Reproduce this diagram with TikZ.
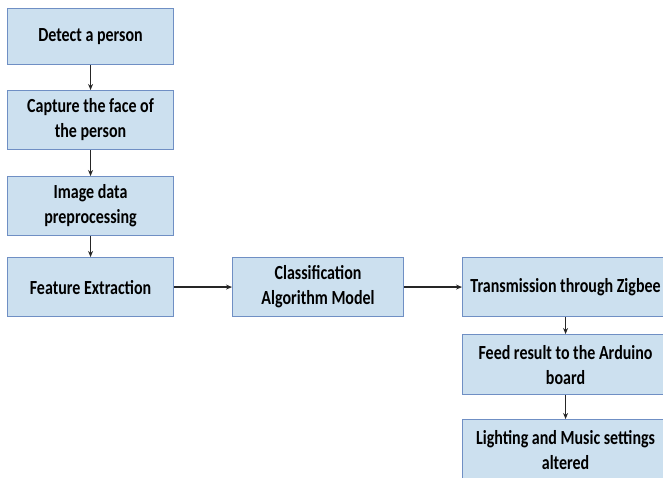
\documentclass[tikz,border=0pt]{standalone}
\usepackage{fontspec}
\setmainfont{Carlito}[FakeStretch=0.8]
\usetikzlibrary{arrows.meta}
\definecolor{boxfill}{HTML}{CCE0EF}
\definecolor{boxline}{HTML}{6F8FC4}
\tikzset{
  stepbox/.style={draw=boxline, line width=1.1pt, fill=boxfill, inner sep=0pt,
    font=\fontsize{20}{25}\selectfont\bfseries, align=center, anchor=north west},
  flow/.style={draw=black!85, line width=1.2pt, -{Stealth[length=6pt,width=5pt]}}
}
\begin{document}
\begin{tikzpicture}[x=1pt,y=-1pt]
  \useasboundingbox (0,0) rectangle (663,477);
  \clip (0,0) rectangle (663,477);
  % left column
  \node[stepbox, minimum width=166pt, minimum height=56pt] (detect) at (7,8) {Detect a person};
  \node[stepbox, minimum width=166pt, minimum height=59pt] (capture) at (7,90) {Capture the face of\\the person};
  \node[stepbox, minimum width=166pt, minimum height=59pt] (prep) at (7,176) {Image data\\preprocessing};
  \node[stepbox, minimum width=166pt, minimum height=59pt] (feat) at (7,257) {Feature Extraction};
  % middle
  \node[stepbox, minimum width=171pt, minimum height=59pt] (class) at (232,257) {Classification\\Algorithm Model};
  % right column
  \node[stepbox, minimum width=206pt, minimum height=59pt] (zig) at (462,257) {Transmission through Zigbee};
  \node[stepbox, minimum width=206pt, minimum height=60pt] (ard) at (462,334) {Feed result to the Arduino\\board};
  \node[stepbox, minimum width=206pt, minimum height=60pt] (light) at (462,419) {Lighting and Music settings\\altered};
  % connectors
  \draw[flow] (detect) -- (capture);
  \draw[flow] (capture) -- (prep);
  \draw[flow] (prep) -- (feat);
  \draw[flow] (feat) -- (class);
  \draw[flow] (class) -- (zig);
  \draw[flow] (zig) -- (ard);
  \draw[flow] (ard) -- (light);
\end{tikzpicture}
\end{document}
